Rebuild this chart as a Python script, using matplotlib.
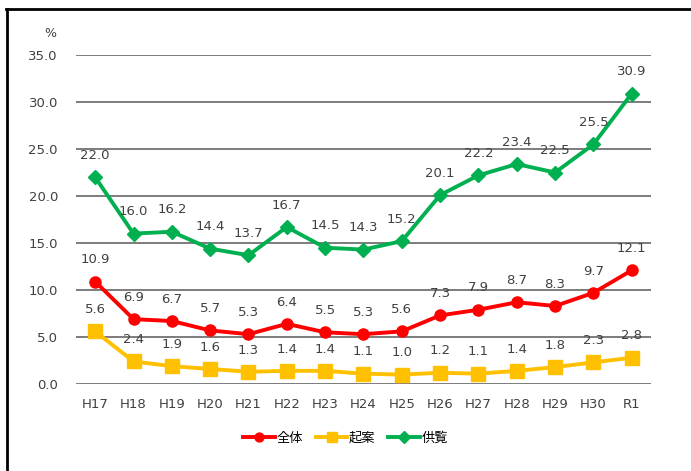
import matplotlib.pyplot as plt
from matplotlib.lines import Line2D

plt.rcParams['font.family'] = ['DejaVu Sans', 'Noto Sans CJK JP']

years = ["H17", "H18", "H19", "H20", "H21", "H22", "H23", "H24", "H25",
         "H26", "H27", "H28", "H29", "H30", "R1"]
zentai = [10.9, 6.9, 6.7, 5.7, 5.3, 6.4, 5.5, 5.3, 5.6, 7.3, 7.9, 8.7, 8.3, 9.7, 12.1]
kian = [5.6, 2.4, 1.9, 1.6, 1.3, 1.4, 1.4, 1.1, 1.0, 1.2, 1.1, 1.4, 1.8, 2.3, 2.8]
kyoran = [22.0, 16.0, 16.2, 14.4, 13.7, 16.7, 14.5, 14.3, 15.2, 20.1, 22.2, 23.4, 22.5, 25.5, 30.9]
yticks = [0, 5, 10, 15, 20, 25, 30, 35]

text_col = "#404040"

fig = plt.figure(figsize=(6.91, 4.71), dpi=100)
ax = fig.add_axes([0.110, 0.1847, 0.832, 0.6985])

x = list(range(len(years)))
series = [
    (zentai, "全体", "#FF0000", "o", 8),
    (kian, "起案", "#FFC000", "s", 9.5),
    (kyoran, "供覧", "#00B050", "D", 7.5),
]
for vals, name, col, mk, ms in series:
    ax.plot(x, vals, color=col, lw=2.8, marker=mk, markersize=ms, label=name, zorder=3)
    for xi, v in zip(x, vals):
        ax.annotate(f"{v:.1f}", (xi, v), xytext=(0, 11), textcoords="offset points",
                    ha="center", va="bottom", fontsize=9.5, color=text_col)

ax.set_xlim(-0.5, len(years) - 0.5)
ax.set_ylim(0, 35)
ax.set_yticks(yticks)
ax.set_yticklabels([f"{t:.1f}" for t in yticks])
ax.set_xticks(x)
ax.set_xticklabels(years)
ax.tick_params(length=0, labelsize=9.5, colors=text_col, pad=10)
ax.tick_params(axis="y", pad=13)
for s in ax.spines.values():
    s.set_visible(False)
ax.yaxis.grid(True, color="#595959", lw=1.1)
ax.set_axisbelow(True)
ax.text(-0.045, 1.064, "%", transform=ax.transAxes, fontsize=9, color=text_col,
        ha="center", va="center")

handles = [Line2D([0], [0], color=c, lw=2.8, marker=m, markersize=ms * 0.8)
           for _, _, c, m, ms in series]
fig.legend(handles, [s[1] for s in series], loc="center", bbox_to_anchor=(0.5, 0.07),
           ncol=3, frameon=False, handlelength=2.4, handletextpad=0.1, columnspacing=1.0,
           prop={"family": "Noto Sans CJK JP", "size": 9.5})

# outer frame (top and left edges only visible)
fig.add_artist(Line2D([0.008, 1.0], [0.981, 0.981], color="black", lw=2, transform=fig.transFigure))
fig.add_artist(Line2D([0.010, 0.010], [0.0, 0.981], color="black", lw=2, transform=fig.transFigure))

plt.savefig("out.png", dpi=100)
